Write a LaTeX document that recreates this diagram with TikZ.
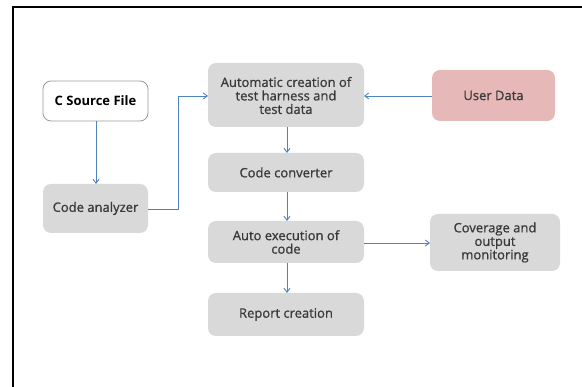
\documentclass[tikz,border=0pt]{standalone}
\usepackage{fontspec}
\setmainfont{Open Sans}
\usetikzlibrary{arrows.meta}
\definecolor{boxgray}{HTML}{D9D9D9}
\definecolor{userpink}{HTML}{E6B8B7}
\definecolor{linkblue}{HTML}{4F81BD}
\definecolor{txtgray}{HTML}{3A3A3A}
\newfontfamily\labelfont[FakeBold=1]{Open Sans}
\begin{document}
\begin{tikzpicture}[x=1pt,y=-1pt,
  box/.style={rounded corners=8pt, fill=boxgray, draw=none},
  lbl/.style={text=txtgray, font=\labelfont\fontsize{13}{13.5}\selectfont, align=center},
  link/.style={linkblue, line width=0.9pt, -{Straight Barb[length=4pt,width=6pt]}}]
  % page area and frame
  \useasboundingbox (0,0) rectangle (582,387);
  \draw[line width=2pt] (13,387) -- (13,7) -- (582,7);

  % boxes
  \draw[rounded corners=8pt, fill=white, draw=gray!80, line width=0.8pt] (43,81) rectangle (148,121);
  \node[font=\fontsize{13}{13.5}\selectfont\bfseries] (src) at (95.5,101) {C Source File};
  \path[box] (43,184) rectangle (148,233);
  \node[lbl] (ana) at (95.5,208.5) {Code analyzer};
  \path[box] (208,63) rectangle (364,127);
  \node[lbl] (auto) at (286,95.5) {Automatic creation of\\test harness and\\test data};
  \path[box] (208,153) rectangle (364,192);
  \node[lbl] (conv) at (286,172.5) {Code converter};
  \path[box] (208,221) rectangle (364,263);
  \node[lbl] (exec) at (286,242) {Auto execution of\\code};
  \path[box] (208,293) rectangle (364,336);
  \node[lbl] (rep) at (286,314.5) {Report creation};
  \path[rounded corners=8pt, fill=userpink] (432,70) rectangle (555,121);
  \node[lbl] (user) at (493.5,95.5) {User Data};
  \path[box] (430,214) rectangle (560,271);
  \node[lbl] (cov) at (495,242.5) {Coverage and\\output\\monitoring};

  % anchor points on box edges
  \coordinate (srcB) at (96,121);
  \coordinate (anaT) at (96,184);
  \coordinate (anaR) at (148,209);
  \coordinate (autoL) at (208,96);
  \coordinate (autoR) at (364,96);
  \coordinate (autoB) at (287,127);
  \coordinate (userL) at (432,96);
  \coordinate (convT) at (287,153);
  \coordinate (convB) at (287,192);
  \coordinate (execT) at (287,221);
  \coordinate (execB) at (287,263);
  \coordinate (execR) at (364,243);
  \coordinate (repT) at (287,293);
  \coordinate (covL) at (430,243);

  % connectors
  \draw[link] (srcB) -- (anaT);
  \draw[link] (anaR) -- (178,209) -- (178,96) -- (autoL);
  \draw[link] (userL) -- (autoR);
  \draw[link] (autoB) -- (convT);
  \draw[link] (convB) -- (execT);
  \draw[link] (execB) -- (repT);
  \draw[link] (execR) -- (covL);
\end{tikzpicture}
\end{document}
